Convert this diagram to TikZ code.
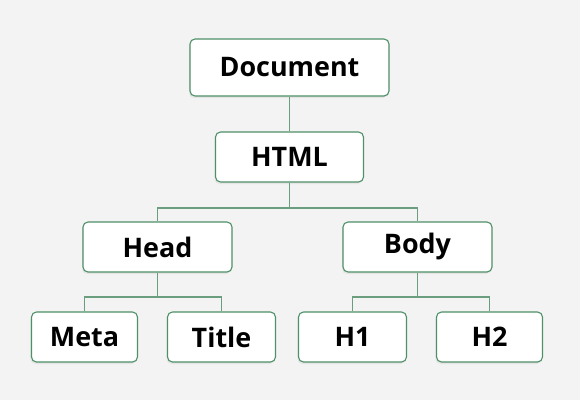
\documentclass[tikz,border=0pt]{standalone}
\usepackage{fontspec}
\setmainfont{Open Sans}
\usetikzlibrary{shadows}
\definecolor{bgcol}{HTML}{F3F3F3}
\definecolor{boxline}{HTML}{4E9068}
\definecolor{linkcol}{HTML}{6A9E7E}
\tikzset{
	treebox/.style={draw=boxline, line width=1.1bp, fill=white, rounded corners=5bp,
		minimum height=50bp, inner sep=0pt, font=\fontsize{27}{30}\selectfont\bfseries,
		drop shadow={opacity=0.12, shadow xshift=-1bp, shadow yshift=-2bp}},
	link/.style={draw=linkcol, line width=1.3bp}
}

\begin{document}
\begin{tikzpicture}[x=1bp, y=-1bp]

	\fill[bgcol] (0,0) rectangle (580,400);
	\useasboundingbox (0,0) rectangle (580,400);

	% top of the tree
	\node[treebox, minimum width=199bp, minimum height=57bp] (document) at (289.5,67.5) {Document};
	\node[treebox, minimum width=148bp] (html) at (289.5,157) {HTML};

	% second level
	\node[treebox, minimum width=149bp] (head) at (157.5,247) {Head};
	\node[treebox, minimum width=149bp] (body) at (417.5,247) {Body};

	% leaves
	\node[treebox, minimum width=106bp] (meta) at (84.5,337) {Meta};
	\node[treebox, minimum width=108bp] (title) at (221.5,337) {Title};
	\node[treebox, minimum width=108bp] (hone) at (352.5,337) {H1};
	\node[treebox, minimum width=106bp] (htwo) at (489.5,337) {H2};

	\draw[link] (document.south) -- (html.north);
	\draw[link] (html.south) -- ++(0,25.5) -| (head.north);
	\draw[link] (html.south) -- ++(0,25.5) -| (body.north);
	\draw[link] (head.south) -- ++(0,24.5) -| (meta.north);
	\draw[link] (head.south) -- ++(0,24.5) -| (title.north);
	\draw[link] (body.south) -- ++(0,24.5) -| (hone.north);
	\draw[link] (body.south) -- ++(0,24.5) -| (htwo.north);

\end{tikzpicture}
\end{document}
